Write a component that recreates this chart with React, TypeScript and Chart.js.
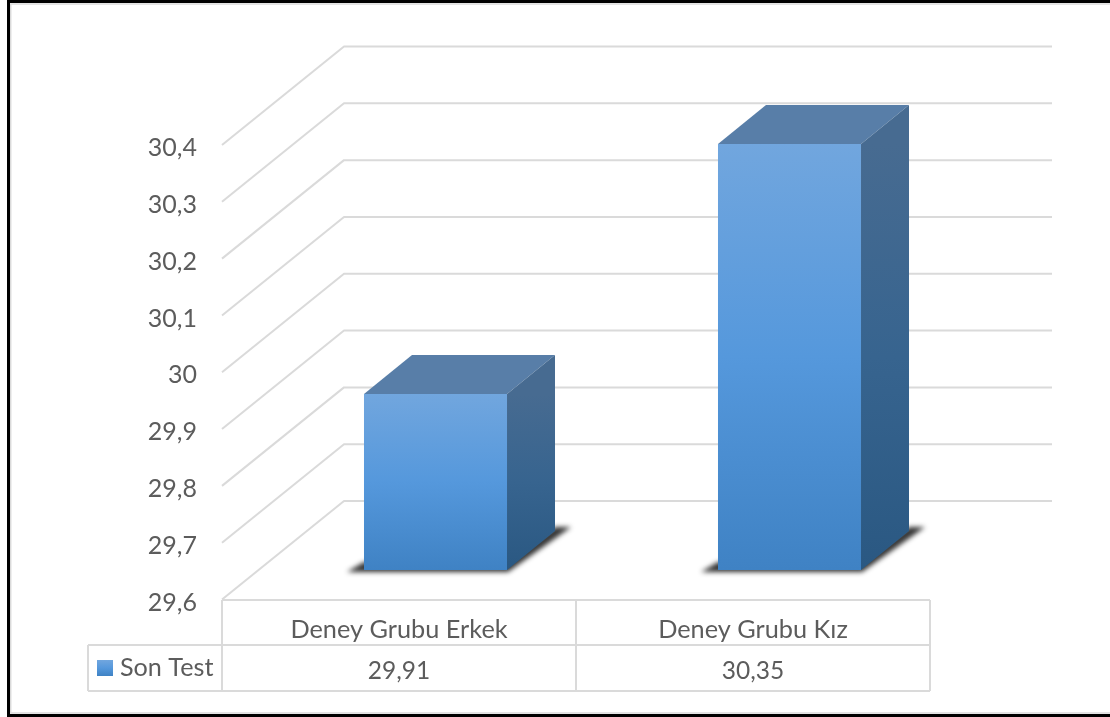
import React, { useEffect, useRef } from "react";
import { Chart, registerables } from "chart.js";

Chart.register(...registerables);

const categories = ["Deney Grubu Erkek", "Deney Grubu Kız"];
const seriesName = "Son Test";
const sonTest = [29.91, 30.35];
const axisMin = 29.6;
const axisMax = 30.4;
const axisStep = 0.1;

const FONT = "Lato";
const TEXT = "#5c5c5c";
const LINE = "#dadada";
const fmt = (v: number) => String(Number(v.toFixed(2))).replace(".", ",");

const WALL = { dx: 122, dy: -98.5, right: 1052 };
const FRONT = { dx: 36.5, dy: -29.5 };
const DEPTH = { dx: 48, dy: -39 };
const TABLE = { top: 600, row: 645, bottom: 691, left: 88 };

function line(ctx: CanvasRenderingContext2D, pts: number[][]) {
  ctx.beginPath();
  pts.forEach(([x, y], i) => (i ? ctx.lineTo(x, y) : ctx.moveTo(x, y)));
  ctx.stroke();
}
function poly(ctx: CanvasRenderingContext2D, pts: number[][]) {
  ctx.beginPath();
  pts.forEach(([x, y], i) => (i ? ctx.lineTo(x, y) : ctx.moveTo(x, y)));
  ctx.closePath();
  ctx.fill();
}

const frontGradient = (ctx: CanvasRenderingContext2D, y0: number, y1: number) => {
  const g = ctx.createLinearGradient(0, y0, 0, y1);
  g.addColorStop(0, "#71a6de");
  g.addColorStop(0.5, "#5598dc");
  g.addColorStop(1, "#3f82c4");
  return g;
};

const scene3d = {
  id: "scene3d",
  beforeDraw(chart: any) {
    const { ctx, width, height } = chart;
    ctx.save();
    ctx.fillStyle = "#ffffff";
    ctx.fillRect(0, 0, width, height);
    ctx.strokeStyle = LINE;
    ctx.lineWidth = 1.5;
    line(ctx, [[width, 4], [10.7, 4], [10.7, height - 4], [width, height - 4]]);
    ctx.fillStyle = "#000000";
    ctx.fillRect(7, 0, width - 7, 3);
    ctx.fillRect(7, 0, 3, height);
    ctx.fillRect(7, height - 3, width - 7, 3);
    ctx.restore();
  },
  beforeDatasetsDraw(chart: any) {
    const { ctx, scales } = chart;
    const y = scales.y;
    const x0 = chart.chartArea.left;
    ctx.save();
    // side wall and back wall gridlines, from the value axis
    ctx.strokeStyle = LINE;
    ctx.lineWidth = 2;
    ctx.lineJoin = "round";
    y.ticks.forEach((t: any) => {
      const py = y.getPixelForValue(t.value);
      line(ctx, [
        [x0, py],
        [x0 + WALL.dx, py + WALL.dy],
        [WALL.right, py + WALL.dy],
      ]);
    });
    // floor shadows
    const meta = chart.getDatasetMeta(0);
    ctx.filter = "blur(2.4px)";
    ctx.fillStyle = "rgba(15,15,15,0.85)";
    meta.data.forEach((b: any) => {
      const l = b.x - b.width / 2 + FRONT.dx;
      const r = b.x + b.width / 2 + FRONT.dx;
      const f = b.base + FRONT.dy;
      poly(ctx, [
        [l - 17, f + 2],
        [r + 1, f + 2],
        [r + DEPTH.dx + 16, f + DEPTH.dy - 4],
        [r + DEPTH.dx, f + DEPTH.dy - 4],
        [r, f - 8],
        [l, f - 8],
      ]);
    });
    ctx.filter = "none";
    ctx.restore();
  },
  beforeDatasetDraw(chart: any) {
    const { ctx } = chart;
    ctx.save();
    ctx.translate(FRONT.dx, FRONT.dy);
  },
  afterDatasetDraw(chart: any) {
    const { ctx } = chart;
    const meta = chart.getDatasetMeta(0);
    meta.data.forEach((b: any) => {
      const l = b.x - b.width / 2;
      const r = b.x + b.width / 2;
      const t = b.y;
      const f = b.base;
      ctx.fillStyle = "#587ea8";
      poly(ctx, [
        [l, t],
        [l + DEPTH.dx, t + DEPTH.dy],
        [r + DEPTH.dx, t + DEPTH.dy],
        [r, t],
      ]);
      const g = ctx.createLinearGradient(0, t, 0, f);
      g.addColorStop(0, "#476b91");
      g.addColorStop(0.5, "#37648f");
      g.addColorStop(1, "#2a5882");
      ctx.fillStyle = g;
      poly(ctx, [
        [r, t],
        [r + DEPTH.dx, t + DEPTH.dy],
        [r + DEPTH.dx, f + DEPTH.dy],
        [r, f],
      ]);
    });
    ctx.restore();
  },
  afterDraw(chart: any) {
    const { ctx, scales, chartArea } = chart;
    const x = scales.x;
    const half = (x.getPixelForValue(1) - x.getPixelForValue(0)) / 2;
    const tops = [chartArea.left, ...categories.map((_, i) => x.getPixelForValue(i) + half)];
    ctx.save();
    ctx.strokeStyle = LINE;
    ctx.lineWidth = 2;
    const right = tops[tops.length - 1];
    line(ctx, [[chartArea.left, TABLE.top], [right, TABLE.top]]);
    line(ctx, [[TABLE.left, TABLE.row], [right, TABLE.row]]);
    line(ctx, [[TABLE.left, TABLE.bottom], [right, TABLE.bottom]]);
    line(ctx, [[TABLE.left, TABLE.row], [TABLE.left, TABLE.bottom]]);
    tops.forEach((px) => line(ctx, [[px, TABLE.top], [px, TABLE.bottom]]));

    ctx.font = `24.5px ${FONT}`;
    ctx.fillStyle = TEXT;
    ctx.textAlign = "center";
    ctx.textBaseline = "middle";
    const values = chart.data.datasets[0].data;
    values.forEach((v: number, i: number) => {
      ctx.fillText(fmt(v), x.getPixelForValue(i), (TABLE.row + TABLE.bottom) / 2 + 3);
    });
    ctx.textAlign = "left";
    ctx.font = `25.2px ${FONT}`;
    ctx.fillText(chart.data.datasets[0].label, 120, (TABLE.row + TABLE.bottom) / 2);
    ctx.fillStyle = frontGradient(ctx, 660, 676);
    ctx.fillRect(97, 660, 16, 16);
    ctx.restore();
  },
};

export default function App() {
  const ref = useRef<HTMLCanvasElement | null>(null);
  useEffect(() => {
    if (!ref.current) return;
    const chart = new Chart(ref.current, {
      type: "bar",
      plugins: [scene3d],
      data: {
        labels: categories,
        datasets: [
          {
            label: seriesName,
            data: sonTest,
            base: axisMin,
            barPercentage: 0.404,
            categoryPercentage: 1,
            borderWidth: 0,
            backgroundColor: (c: any) => {
              const s = c.chart.scales?.y;
              if (c.type !== "data" || !s) return "#5598dc";
              const y0 = s.getPixelForValue(c.raw);
              const y1 = s.getPixelForValue(axisMin);
              if (!Number.isFinite(y0) || !Number.isFinite(y1)) return "#5598dc";
              return frontGradient(c.chart.ctx, y0, y1);
            },
          },
        ],
      },
      options: {
        responsive: false,
        animation: false,
        layout: { padding: { left: 0, right: 180, top: 145, bottom: 0 } },
        plugins: { legend: { display: false }, tooltip: { enabled: false } },
        scales: {
          x: {
            afterFit: (s: any) => {
              s.height = 717 - 599.5;
            },
            grid: { display: false },
            border: { display: false },
            ticks: { color: TEXT, font: { family: FONT, size: 25.3 }, padding: 7, maxRotation: 0 },
          },
          y: {
            min: axisMin,
            max: axisMax,
            afterFit: (s: any) => {
              s.width = 222;
            },
            grid: { display: false },
            border: { display: false },
            ticks: {
              stepSize: axisStep,
              color: TEXT,
              padding: 17,
              labelOffset: 3,
              font: { family: FONT, size: 25 },
              callback: (v: any) => fmt(Number(v)),
            },
          },
        },
      },
    } as any);
    return () => chart.destroy();
  }, []);
  return (
    <div style={{ position: "absolute", left: 0, top: 0, width: 1110, height: 717, overflow: "hidden" }}>
      <canvas ref={ref} width={1110} height={717} style={{ display: "block", filter: "blur(0.4px)" }} />
    </div>
  );
}
